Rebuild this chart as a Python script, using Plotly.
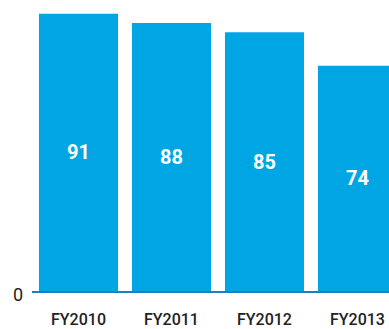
import plotly.graph_objects as go

categories = ["FY2010", "FY2011", "FY2012", "FY2013"]
values = [91, 88, 85, 74]

fig = go.Figure(go.Bar(
    x=categories, y=values,
    marker=dict(color="#00A6E3", line=dict(width=0)),
    text=[str(v) for v in values],
    textposition="inside", insidetextanchor="middle",
    textfont=dict(family="Roboto", size=20, color="white", weight="bold"),
    cliponaxis=True,
))

fig.update_layout(
    width=389, height=329,
    margin=dict(l=32, r=0, t=0, b=35),
    paper_bgcolor="white", plot_bgcolor="white",
    bargap=0.15,
    showlegend=False,
    xaxis=dict(
        type="category", range=[-0.5, 3.339],
        showline=True, linecolor="#1E7EC2", linewidth=1.5,
        showgrid=False, zeroline=False, ticks="",
        tickfont=dict(family="Roboto", size=16, color="#222222", weight=500),
        ticklabelstandoff=13,
    ),
    yaxis=dict(
        range=[0, 95.55], tickvals=[0], ticktext=["0"],
        showgrid=False, zeroline=False, showline=False, ticks="",
        tickfont=dict(family="Roboto", size=18, color="#222222"),
        ticklabelstandoff=8, ticklabelshift=4,
    ),
)

fig.write_html("out.html")
